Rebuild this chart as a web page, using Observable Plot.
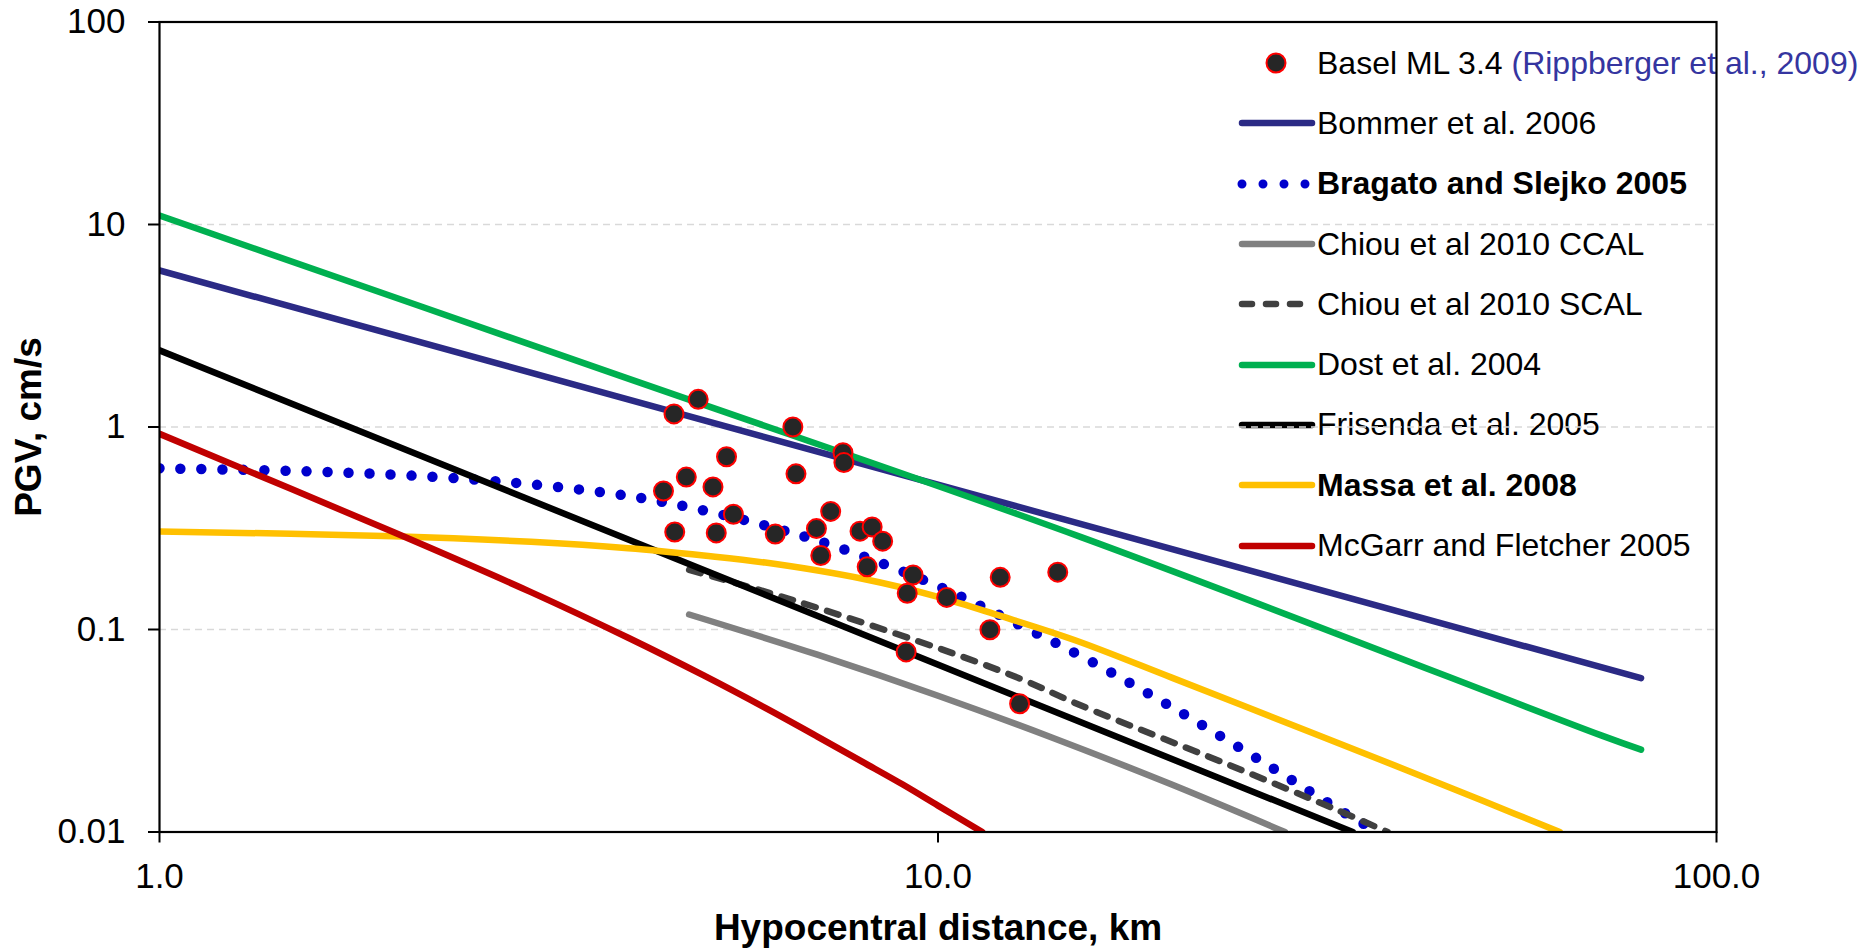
<!DOCTYPE html>
<html><head><meta charset="utf-8">
<script src="https://cdn.jsdelivr.net/npm/d3@7"></script>
<script src="https://cdn.jsdelivr.net/npm/@observablehq/plot@0.6"></script>
<style>
html,body{margin:0;padding:0;background:#fff;}
#wrap{position:relative;width:1864px;height:948px;font-family:"Liberation Sans",Arial,sans-serif;}
#wrap > svg{position:absolute;left:0;top:0;z-index:1;background:transparent;}
#legend{position:absolute;left:1238px;top:33px;z-index:0;}
.row{height:60.3px;display:flex;align-items:center;font-size:32px;white-space:nowrap;color:#000;}
.row svg{width:78px;height:24px;flex:none;margin-right:1px;overflow:visible;}
.ref{color:#3535a0;}
</style></head><body><div id="wrap"><div id="legend"></div></div>
<script>
// ---- Data ----
const baselDist = [4.58, 4.92, 6.51, 7.55, 7.57, 5.35, 6.57, 4.75, 4.44, 5.14, 5.46, 4.59, 5.19, 6.18, 7.28, 6.98, 7.07, 7.94, 8.23, 8.49, 8.11, 9.29, 9.13, 10.26, 12.02, 14.25, 11.66, 9.10, 12.73];
const baselPGV  = [1.16, 1.37, 1.00, 0.746, 0.667, 0.713, 0.587, 0.566, 0.483, 0.506, 0.371, 0.303, 0.300, 0.296, 0.383, 0.315, 0.232, 0.306, 0.321, 0.273, 0.204, 0.186, 0.151, 0.144, 0.181, 0.192, 0.0997, 0.0775, 0.043];

const bommerDist = [1, 80];
const bommerPGV  = [5.93, 0.0575];
const bragatoDist = [1, 1.807, 2.818, 3.825, 4.614, 5.883, 7.474, 9.986, 12.50, 15.70, 20.59, 26.90, 33.32, 36.8];
const bragatoPGV  = [0.625, 0.592, 0.533, 0.468, 0.414, 0.333, 0.253, 0.164, 0.109, 0.0698, 0.0386, 0.0207, 0.0124, 0.01];
const ccalDist = [4.79, 7, 10, 14, 20, 27.9];
const ccalPGV  = [0.1186, 0.0751, 0.0471, 0.0293, 0.0171, 0.01];
const scalDist = [4.79, 6.54, 10.49, 12.79, 15.27, 23.33, 32.32, 37.8];
const scalPGV  = [0.197, 0.139, 0.0759, 0.0569, 0.0421, 0.0219, 0.0130, 0.01];
const dostDist = [1, 3.69, 15.27, 71.1, 80];
const dostPGV  = [11.07, 1.93, 0.286, 0.030, 0.0255];
const frisendaDist = [1, 34.1];
const frisendaPGV  = [2.39, 0.01];
const massaDist = [1, 2, 3, 4, 5, 6, 8, 10, 12, 15, 20, 30, 40, 50, 62.9];
const massaPGV  = [0.305, 0.289, 0.271, 0.252, 0.232, 0.214, 0.178, 0.145, 0.117, 0.0885, 0.0577, 0.0313, 0.0202, 0.0143, 0.01];
const mcgarrDist = [1, 2, 3, 4, 5, 6, 7, 8, 9, 10, 11.4];
const mcgarrPGV  = [0.925, 0.302, 0.153, 0.091, 0.0593, 0.041, 0.0296, 0.0222, 0.0172, 0.0135, 0.01];

const pointName = "Basel ML 3.4";
const pointRef = "(Rippberger et al., 2009)";
const seriesNames = ["Bommer et al. 2006", "Bragato and Slejko 2005", "Chiou et al 2010 CCAL", "Chiou et al 2010 SCAL", "Dost et al. 2004", "Frisenda et al. 2005", "Massa et al. 2008", "McGarr and Fletcher 2005"];
const seriesDist = [bommerDist, bragatoDist, ccalDist, scalDist, dostDist, frisendaDist, massaDist, mcgarrDist];
const seriesPGV  = [bommerPGV, bragatoPGV, ccalPGV, scalPGV, dostPGV, frisendaPGV, massaPGV, mcgarrPGV];

const xTicks = [1, 10, 100];
const yTicks = [0.01, 0.1, 1, 10, 100];
const gridTicks = [0.1, 1, 10];
const xTitle = "Hypocentral distance, km";
const yTitle = "PGV, cm/s";

// ---- Styles ----
const seriesStyle = [
  {stroke: "#2b2a85", strokeWidth: 6.5},
  {stroke: "#0000cc", strokeWidth: 10.5, strokeDasharray: "0,21", bold: true},
  {stroke: "#808080", strokeWidth: 6.5},
  {stroke: "#404040", strokeWidth: 6.5, strokeDasharray: "12,12"},
  {stroke: "#00b050", strokeWidth: 6.5},
  {stroke: "#000000", strokeWidth: 6.5},
  {stroke: "#ffc000", strokeWidth: 6.5, bold: true},
  {stroke: "#c00000", strokeWidth: 6.5}
];
const pointStyle = {fill: "#262626", stroke: "#ff0000", r: 9.5, strokeWidth: 2};

// ---- Tables ----
const points = baselDist.map((d, i) => ({d, v: baselPGV[i]}));
const lineMarks = seriesNames.map((name, i) => {
  const rows = seriesDist[i].map((d, j) => ({d, v: seriesPGV[i][j]}));
  const s = seriesStyle[i];
  return Plot.line(rows, {
    x: "d", y: "v", stroke: s.stroke, strokeWidth: s.strokeWidth,
    strokeDasharray: s.strokeDasharray, strokeLinecap: "round", strokeLinejoin: "round",
    curve: "catmull-rom", clip: true
  });
});

const chart = Plot.plot({
  width: 1864, height: 948,
  marginLeft: 159, marginRight: 148, marginTop: 21.5, marginBottom: 116.5,
  style: {fontFamily: "'Liberation Sans', Arial, sans-serif", fontSize: "35px", color: "black", background: "transparent", overflow: "visible"},
  x: {type: "log", domain: [1, 100]},
  y: {type: "log", domain: [0.01, 100]},
  marks: [
    Plot.ruleY(gridTicks, {stroke: "#d9d9d9", strokeWidth: 1.5, strokeDasharray: "7,5"}),
    ...lineMarks,
    Plot.frame({stroke: "black", strokeWidth: 2.2}),
    Plot.dot(points, {x: "d", y: "v", r: pointStyle.r, fill: pointStyle.fill, stroke: pointStyle.stroke, strokeWidth: pointStyle.strokeWidth}),
    Plot.axisX(xTicks, {tickSize: 11, tickPadding: 20, strokeWidth: 2, tickFormat: d => d.toFixed(1), fontSize: 35, label: null}),
    Plot.axisY(yTicks, {tickSize: 11, tickPadding: 23, strokeWidth: 2, tickFormat: d => String(d), fontSize: 35, label: null}),
    Plot.text([xTitle], {text: d => d, frameAnchor: "bottom", dy: 96, fontSize: 37, fontWeight: "bold", textAnchor: "middle", lineAnchor: "middle"}),
    Plot.text([yTitle], {text: d => d, frameAnchor: "left", dx: -130, rotate: -90, fontSize: 37, fontWeight: "bold", textAnchor: "middle", lineAnchor: "middle"})
  ]
});
document.getElementById("wrap").appendChild(chart);

// ---- Legend (HTML overlay) ----
const legend = document.getElementById("legend");
const NS = "http://www.w3.org/2000/svg";
function makeRow(swatchFn, textHtml, bold) {
  const row = document.createElement("div");
  row.className = "row";
  const svg = document.createElementNS(NS, "svg");
  svg.setAttribute("viewBox", "0 0 78 24");
  swatchFn(svg);
  row.appendChild(svg);
  const span = document.createElement("span");
  span.innerHTML = textHtml;
  if (bold) span.style.fontWeight = "bold";
  row.appendChild(span);
  legend.appendChild(row);
}
makeRow(svg => {
  const c = document.createElementNS(NS, "circle");
  c.setAttribute("cx", 38); c.setAttribute("cy", 12); c.setAttribute("r", pointStyle.r);
  c.setAttribute("fill", pointStyle.fill); c.setAttribute("stroke", pointStyle.stroke);
  c.setAttribute("stroke-width", pointStyle.strokeWidth);
  svg.appendChild(c);
}, pointName + ' <span class="ref">' + pointRef + '</span>', false);
seriesNames.forEach((name, i) => {
  const s = seriesStyle[i];
  const dotted = s.strokeDasharray && s.strokeDasharray.startsWith("0");
  makeRow(svg => {
    const l = document.createElementNS(NS, "line");
    l.setAttribute("x1", 4);
    l.setAttribute("x2", s.strokeDasharray ? (dotted ? 68 : 62) : 74);
    l.setAttribute("y1", 12); l.setAttribute("y2", 12);
    l.setAttribute("stroke", s.stroke);
    l.setAttribute("stroke-width", dotted ? 9 : 6.5);
    l.setAttribute("stroke-linecap", "round");
    if (s.strokeDasharray) l.setAttribute("stroke-dasharray", dotted ? "0,21" : "10,14");
    svg.appendChild(l);
  }, name, s.bold);
});
</script></body></html>
